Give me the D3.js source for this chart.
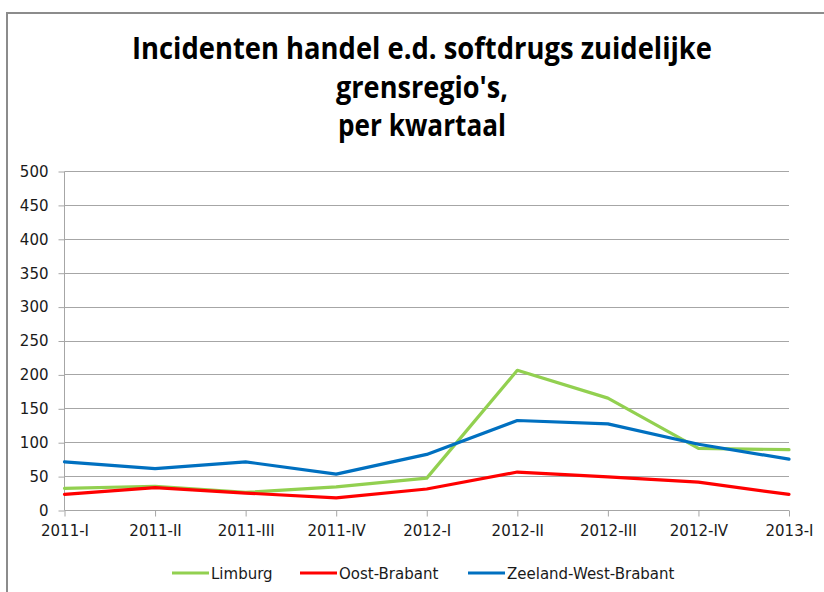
<!DOCTYPE html>
<html>
<head>
<meta charset="utf-8">
<script src="https://cdn.jsdelivr.net/npm/d3@7"></script>
<style>
  body { margin: 0; background: #fff; }
  text { font-family: "DejaVu Sans", sans-serif; fill: #1a1a1a; }
  .title { font-family: "Open Sans", sans-serif; font-weight: bold; font-size: 31px; fill: #000; }
</style>
</head>
<body>
<div class="chart"></div>
<script>
// Data
const quarters = ["2011-I", "2011-II", "2011-III", "2011-IV", "2012-I", "2012-II", "2012-III", "2012-IV", "2013-I"];
const limburg = [32, 35, 26, 34, 47, 206, 165, 91, 89];
const oostBrabant = [23, 33, 25, 18, 31, 56, 49, 41, 23];
const zeelandWestBrabant = [71, 61, 71, 53, 82, 132, 127, 97, 75];
const yTicks = [0, 50, 100, 150, 200, 250, 300, 350, 400, 450, 500];
const titleLines = ["Incidenten handel e.d. softdrugs zuidelijke", "grensregio's,", "per kwartaal"];

const series = [
  {name: "Limburg", values: limburg, color: "#92D050"},
  {name: "Oost-Brabant", values: oostBrabant, color: "#FF0000"},
  {name: "Zeeland-West-Brabant", values: zeelandWestBrabant, color: "#0070C0"}
];

// Dimensions
const W = 824, H = 592;
const plot = {left: 64.5, right: 789, top: 171, bottom: 510};

// Scales
const xScale = d3.scalePoint()
    .domain(quarters)
    .range([plot.left, plot.right]);
const yScale = d3.scaleLinear()
    .domain([0, 500])
    .range([plot.bottom, plot.top]);

const svg = d3.select(".chart").append("svg")
    .attr("width", W)
    .attr("height", H);

// frame
svg.append("rect")
    .attr("x", 7).attr("y", 13)
    .attr("width", 900).attr("height", 700)
    .attr("fill", "#fff")
    .attr("stroke", "#8c8c8c")
    .attr("stroke-width", 2);

// title
const titleWidths = [580, 172, 168];
const titleBase = [59, 98, 136];
svg.selectAll(".title")
    .data(titleLines)
  .enter().append("text")
    .attr("class", "title")
    .attr("x", 422)
    .attr("y", (d, i) => titleBase[i])
    .attr("text-anchor", "middle")
    .attr("textLength", (d, i) => titleWidths[i])
    .attr("lengthAdjust", "spacingAndGlyphs")
    .text(d => d);

// gridlines
svg.append("g")
    .selectAll("line")
    .data(yTicks.slice(1))
  .enter().append("line")
    .attr("x1", plot.left)
    .attr("x2", plot.right)
    .attr("y1", d => Math.round(yScale(d)) + 0.5)
    .attr("y2", d => Math.round(yScale(d)) + 0.5)
    .attr("stroke", "#a6a6a6");

// y axis
const yAxis = svg.append("g")
    .attr("transform", "translate(" + plot.left + ",0.5)")
    .call(d3.axisLeft(yScale).tickValues(yTicks).tickSize(6).tickPadding(10));
yAxis.selectAll("path, line").attr("stroke", "#a6a6a6");
yAxis.select(".domain").attr("d", "M0," + plot.top + "V" + plot.bottom);
yAxis.selectAll("text")
    .attr("font-family", "DejaVu Sans")
    .attr("font-size", 15)
    .attr("fill", "#1a1a1a");

// x axis
const xAxis = svg.append("g")
    .attr("transform", "translate(0," + (plot.bottom + 0.5) + ")")
    .call(d3.axisBottom(xScale).tickSize(6).tickPadding(9));
xAxis.selectAll("path, line").attr("stroke", "#a6a6a6");
xAxis.select(".domain").attr("d", "M" + plot.left + ",0H" + plot.right);
xAxis.selectAll("text")
    .attr("font-family", "DejaVu Sans")
    .attr("font-size", 15)
    .attr("fill", "#1a1a1a");

// lines
const lineGenerator = d3.line()
    .x((d, i) => xScale(quarters[i]))
    .y(d => yScale(d));

svg.append("g")
    .selectAll("path")
    .data(series)
  .enter().append("path")
    .attr("d", d => lineGenerator(d.values))
    .attr("fill", "none")
    .attr("stroke", d => d.color)
    .attr("stroke-width", 3.2)
    .attr("stroke-linejoin", "round")
    .attr("stroke-linecap", "round");

// legend
const legendX = [172, 300, 468];
const legend = svg.append("g")
    .selectAll("g")
    .data(series)
  .enter().append("g")
    .attr("transform", (d, i) => "translate(" + legendX[i] + ",573)");
legend.append("line")
    .attr("x1", 0).attr("x2", 37)
    .attr("stroke", d => d.color)
    .attr("stroke-width", 3.2);
legend.append("text")
    .attr("x", 39)
    .attr("y", 5.5)
    .attr("font-size", 15)
    .text(d => d.name);
</script>
</body>
</html>
